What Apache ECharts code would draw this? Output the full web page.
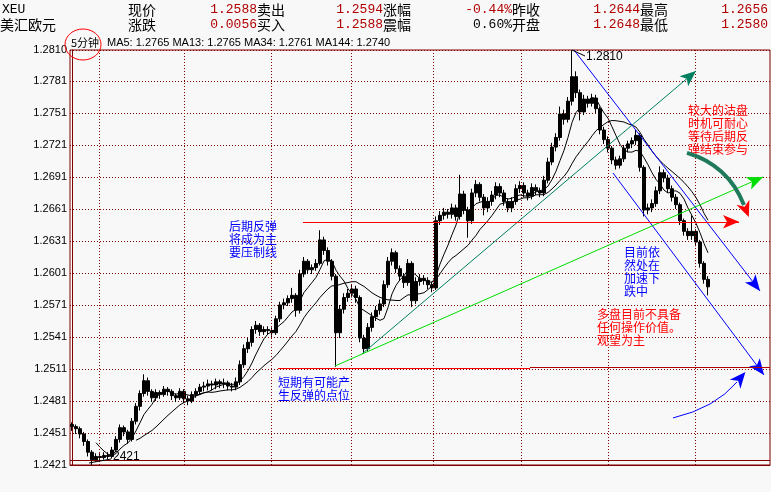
<!DOCTYPE html>
<html>
<head>
<meta charset="utf-8">
<script src="https://cdn.jsdelivr.net/npm/echarts@6/dist/echarts.min.js"></script>
<style>
  html, body { margin: 0; padding: 0; background: #f8f8f8; }
  #chart { width: 771px; height: 492px; }
</style>
</head>
<body>
<div id="chart"></div>
<script>
// ---- 5-minute EUR/USD bars ----
const opens = [
  1.2459,1.2457,1.2455,1.2450,1.2443,1.2433,1.2426,1.2429,1.2428,1.2430,
  1.2429,1.2435,1.2445,1.2456,1.2452,1.2445,1.2462,1.2476,1.2488,1.2500,
  1.2490,1.2484,1.2489,1.2487,1.2492,1.2490,1.2486,1.2484,1.2490,1.2483,
  1.2481,1.2487,1.2490,1.2494,1.2495,1.2497,1.2496,1.2499,1.2497,1.2498,
  1.2495,1.2494,1.2499,1.2515,1.2530,1.2536,1.2548,1.2552,1.2546,1.2548,
  1.2547,1.2545,1.2558,1.2571,1.2573,1.2577,1.2580,1.2566,1.2600,1.2612,
  1.2604,1.2606,1.2610,1.2632,1.2622,1.2612,1.2598,1.2545,1.2567,1.2578,
  1.2582,1.2586,1.2578,1.2540,1.2530,1.2550,1.2560,1.2566,1.2572,1.2590,
  1.2612,1.2620,1.2605,1.2598,1.2592,1.2610,1.2575,1.2593,1.2596,1.2594,
  1.2590,1.2587,1.2650,1.2655,1.2658,1.2656,1.2662,1.2654,1.2675,1.2660,
  1.2650,1.2676,1.2684,1.2672,1.2662,1.2668,1.2674,1.2682,1.2676,1.2668,
  1.2662,1.2668,1.2680,1.2683,1.2676,1.2673,1.2681,1.2678,1.2676,1.2688,
  1.2705,1.2719,1.2728,1.2750,1.2745,1.2762,1.2785,1.2770,1.2752,1.2764,
  1.2760,1.2765,1.2755,1.2735,1.2726,1.2718,1.2707,1.2702,1.2708,1.2718,
  1.2722,1.2725,1.2730,1.2700,1.2660,1.2662,1.2666,1.2678,1.2695,1.2690,
  1.2680,1.2672,1.2665,1.2650,1.2640,1.2636,1.2640,1.2630,1.2610,1.2595
];
const closes = [
  1.2457,1.2455,1.2450,1.2443,1.2433,1.2426,1.2429,1.2428,1.2430,1.2429,
  1.2435,1.2445,1.2456,1.2452,1.2445,1.2462,1.2476,1.2488,1.2500,1.2490,
  1.2484,1.2489,1.2487,1.2492,1.2490,1.2486,1.2484,1.2490,1.2483,1.2481,
  1.2487,1.2490,1.2494,1.2495,1.2497,1.2496,1.2499,1.2497,1.2498,1.2495,
  1.2494,1.2499,1.2515,1.2530,1.2536,1.2548,1.2552,1.2546,1.2548,1.2547,
  1.2545,1.2558,1.2571,1.2573,1.2577,1.2580,1.2566,1.2600,1.2612,1.2604,
  1.2606,1.2610,1.2632,1.2622,1.2612,1.2598,1.2545,1.2567,1.2578,1.2582,
  1.2586,1.2578,1.2540,1.2530,1.2550,1.2560,1.2566,1.2572,1.2590,1.2612,
  1.2620,1.2605,1.2598,1.2592,1.2610,1.2575,1.2593,1.2596,1.2594,1.2590,
  1.2587,1.2650,1.2655,1.2658,1.2656,1.2662,1.2654,1.2675,1.2660,1.2650,
  1.2676,1.2684,1.2672,1.2662,1.2668,1.2674,1.2682,1.2676,1.2668,1.2662,
  1.2668,1.2680,1.2683,1.2676,1.2673,1.2681,1.2678,1.2676,1.2688,1.2705,
  1.2719,1.2728,1.2750,1.2745,1.2762,1.2785,1.2770,1.2752,1.2764,1.2760,
  1.2765,1.2755,1.2735,1.2726,1.2718,1.2707,1.2702,1.2708,1.2718,1.2722,
  1.2725,1.2730,1.2700,1.2660,1.2662,1.2666,1.2678,1.2695,1.2690,1.2680,
  1.2672,1.2665,1.2650,1.2640,1.2636,1.2640,1.2630,1.2610,1.2595,1.2588
];
const lows = [
  1.2453,1.2450,1.2446,1.2439,1.2429,1.2421,1.2424,1.2425,1.2426,1.2426,
  1.2427,1.2433,1.2442,1.2448,1.2441,1.2443,1.2459,1.2472,1.2485,1.2486,
  1.2480,1.2481,1.2483,1.2485,1.2486,1.2482,1.2480,1.2482,1.2479,1.2477,
  1.2479,1.2484,1.2487,1.2490,1.2491,1.2491,1.2492,1.2493,1.2493,1.2491,
  1.2490,1.2491,1.2496,1.2512,1.2526,1.2532,1.2544,1.2542,1.2543,1.2543,
  1.2541,1.2543,1.2555,1.2567,1.2570,1.2573,1.2560,1.2563,1.2597,1.2600,
  1.2600,1.2603,1.2608,1.2618,1.2608,1.2594,1.2513,1.2540,1.2563,1.2574,
  1.2578,1.2573,1.2536,1.2525,1.2527,1.2546,1.2556,1.2562,1.2569,1.2587,
  1.2608,1.2601,1.2594,1.2587,1.2589,1.2569,1.2572,1.2589,1.2590,1.2586,
  1.2583,1.2585,1.2646,1.2651,1.2652,1.2652,1.2650,1.2651,1.2656,1.2634,
  1.2647,1.2672,1.2668,1.2655,1.2658,1.2664,1.2670,1.2672,1.2664,1.2658,
  1.2658,1.2665,1.2676,1.2672,1.2669,1.2670,1.2674,1.2672,1.2673,1.2685,
  1.2702,1.2715,1.2725,1.2740,1.2742,1.2758,1.2765,1.2744,1.2749,1.2756,
  1.2757,1.2751,1.2731,1.2722,1.2714,1.2703,1.2698,1.2699,1.2705,1.2714,
  1.2718,1.2721,1.2696,1.2654,1.2656,1.2658,1.2663,1.2675,1.2686,1.2676,
  1.2668,1.2661,1.2646,1.2636,1.2632,1.2632,1.2626,1.2606,1.2591,1.2580
];
const highs = [
  1.2461,1.2459,1.2457,1.2452,1.2445,1.2435,1.2432,1.2432,1.2433,1.2433,
  1.2438,1.2448,1.2459,1.2458,1.2454,1.2465,1.2479,1.2491,1.2506,1.2503,
  1.2492,1.2492,1.2491,1.2495,1.2494,1.2492,1.2488,1.2493,1.2492,1.2486,
  1.2490,1.2493,1.2497,1.2499,1.2501,1.2500,1.2502,1.2501,1.2502,1.2500,
  1.2498,1.2503,1.2519,1.2534,1.2540,1.2551,1.2556,1.2554,1.2551,1.2551,
  1.2550,1.2561,1.2574,1.2577,1.2580,1.2587,1.2582,1.2604,1.2616,1.2614,
  1.2609,1.2614,1.2641,1.2635,1.2625,1.2614,1.2600,1.2571,1.2582,1.2586,
  1.2590,1.2589,1.2580,1.2543,1.2554,1.2564,1.2570,1.2576,1.2594,1.2616,
  1.2624,1.2622,1.2608,1.2601,1.2614,1.2612,1.2597,1.2600,1.2599,1.2597,
  1.2593,1.2654,1.2659,1.2662,1.2661,1.2666,1.2665,1.2693,1.2678,1.2663,
  1.2680,1.2688,1.2686,1.2675,1.2672,1.2678,1.2686,1.2685,1.2679,1.2671,
  1.2672,1.2684,1.2687,1.2686,1.2679,1.2685,1.2684,1.2681,1.2692,1.2709,
  1.2723,1.2732,1.2757,1.2754,1.2766,1.2810,1.2790,1.2773,1.2768,1.2767,
  1.2769,1.2768,1.2757,1.2738,1.2729,1.2720,1.2710,1.2711,1.2721,1.2725,
  1.2728,1.2735,1.2732,1.2702,1.2666,1.2670,1.2682,1.2701,1.2698,1.2693,
  1.2683,1.2675,1.2667,1.2652,1.2643,1.2655,1.2642,1.2632,1.2612,1.2598
];

// axis range and tick step of the price scale
const priceMin = 1.2421;
const priceMax = 1.2810;
const priceStep = 0.003;
const slotCount = 175;            // bar slots on the time axis (right side left open)

// time-axis grid positions (in bar units)
const timeGrid = [6.8, 28.1, 49.9, 69.9, 90.25, 112.2, 134.1, 155.75];

// quote panel
const symbolCode = 'XEU';
const symbolName = '美汇欧元';
const quoteLabels = [['现价', '卖出', '涨幅', '昨收', '最高'], ['涨跌', '买入', '震幅', '开盘', '最低']];
const quoteValues = [['1.2588', '1.2594', '-0.44%', '1.2644', '1.2656'], ['0.0056', '1.2588', '0.60%', '1.2648', '1.2580']];
const periodName = '5分钟';
const maText = 'MA5: 1.2765 MA13: 1.2765 MA34: 1.2761 MA144: 1.2740';

// trend lines drawn on the chart: [barIndex, price]
const trendLines = [
  { from: [125.5, 1.2810], to: [172, 1.25841], color: '#0000ff', arrow: true },
  { from: [135.25, 1.26947], to: [173, 1.25054], color: '#0000ff', arrow: true },
  { from: [72.5, 1.25251], to: [156, 1.27904], color: '#008060', arrow: true },
  { from: [65.75, 1.25138], to: [172.75, 1.2691], color: '#00dd00', arrow: true },
  { from: [57.75, 1.2649], to: [166.75, 1.2649], color: '#ff0000', arrow: true },
  { from: [51.5, 1.2512], to: [114.5, 1.2512], color: '#ff0000', arrow: false },
  { from: [114.5, 1.25125], to: [174.5, 1.25125], color: '#b00000', arrow: false }
];
// curved arrows: start, control, end  [barIndex, price]
const curveArrows = [
  { pts: [[153.75, 1.27135], [164, 1.27022], [168, 1.26647]], color: '#1f7a5c', head: '#ff0000', width: 4 },
  { pts: [[150.25, 1.24651], [160.75, 1.24744], [166.25, 1.24988]], color: '#0000ff', head: '#0000ff', width: 1 }
];

// notes
const notes = [
  { lines: ['后期反弹', '将成为主', '要压制线'], x: 229, y: 226, color: '#0000ff' },
  { lines: ['短期有可能产', '生反弹的点位'], x: 278, y: 382, color: '#0000ff' },
  { lines: ['目前依', '然处在', '加速下', '跌中'], x: 624, y: 252, color: '#0000ff' },
  { lines: ['较大的沽盘', '时机可耐心', '等待后期反', '弹结束参与'], x: 688, y: 110, color: '#ff0000' },
  { lines: ['多盘目前不具备', '任何操作价值。', '观望为主'], x: 597, y: 314, color: '#ff0000' }
];

function movingAverage(n) {
  return closes.map((_, i) => {
    if (i < n - 1) return '-';
    let s = 0;
    for (let k = i - n + 1; k <= i; k++) s += closes[k];
    return +(s / n).toFixed(5);
  });
}

const slots = Array.from({ length: slotCount }, (_, i) => String(i));
const candleData = opens.map((o, i) => [o, closes[i], lows[i], highs[i]]);
const frame = '#800000';
const CJK = '"Noto Sans CJK SC", sans-serif';

const chart = echarts.init(document.getElementById('chart'));
chart.setOption({
  animation: false,
  backgroundColor: '#f8f8f8',
  grid: { left: 70, right: 1, top: 50, bottom: 27, show: true, borderColor: frame, borderWidth: 1, backgroundColor: 'transparent' },
  xAxis: [
    { type: 'category', data: slots, boundaryGap: true,
      axisLine: { lineStyle: { color: frame } }, axisTick: { show: false }, axisLabel: { show: false }, splitLine: { show: false } },
    { type: 'value', min: -0.5, max: slotCount - 0.5, show: false }
  ],
  yAxis: {
    type: 'value', min: priceMin, max: priceMax, interval: priceStep, scale: true,
    axisLine: { show: true, lineStyle: { color: frame } },
    axisTick: { show: false },
    axisLabel: { color: '#000', fontFamily: 'Liberation Sans', fontSize: 11, margin: 3, formatter: v => v.toFixed(4) },
    splitLine: { show: true, lineStyle: { color: frame, type: [1, 2], width: 1 } }
  },
  series: [
    {
      type: 'line', xAxisIndex: 1, data: [], silent: true, z: 1,
      markLine: {
        silent: true, symbol: ['none', 'none'], label: { show: false },
        lineStyle: { color: frame, type: [1, 2], width: 1 },
        data: timeGrid.map(v => ({ xAxis: v }))
      }
    },
    {
      type: 'candlestick', name: 'XEU', data: candleData, barWidth: 3, z: 3,
      itemStyle: { color: '#000', color0: '#000', borderColor: '#000', borderColor0: '#000', borderWidth: 1 }
    },
    { type: 'line', data: movingAverage(7), symbol: 'none', z: 3, lineStyle: { color: '#000', width: 1 } },
    { type: 'line', data: movingAverage(17), symbol: 'none', z: 3, lineStyle: { color: '#000', width: 1 } },
    {
      type: 'line', xAxisIndex: 1, data: [], silent: true, z: 5,
      markLine: {
        silent: true, label: { show: false }, symbolSize: [10, 16],
        data: trendLines.map(t => [
          { coord: t.from, symbol: 'none', lineStyle: { color: t.color, width: 1, type: 'solid' } },
          { coord: t.to, symbol: t.arrow ? 'arrow' : 'none', itemStyle: { color: t.color } }
        ])
      }
    }
  ]
});

// ---- overlay: quote panel, notes, markers and curved arrows ----
const toPx = p => chart.convertToPixel({ xAxisIndex: 1, yAxisIndex: 0 }, p);
const g = [];
function txt(text, x, y, font, fill, align) {
  g.push({ type: 'text', z: 20, x, y, style: { text, font, fill, align: align || 'left', verticalAlign: 'middle' } });
}

txt(symbolCode, 2, 10, '13px "Liberation Mono"', '#000');
txt(symbolName, 0, 25, '14px ' + CJK, '#000');
const labelLeft = [128, 257, 383, 512, 640];
const valueRight = [257, 383, 512, 640, 768];
quoteLabels.forEach((row, r) => row.forEach((lab, c) => {
  const y = r === 0 ? 10 : 25;
  txt(lab, labelLeft[c], y, '14px ' + CJK, '#000');
  const v = quoteValues[r][c];
  txt(v, valueRight[c], y, '13px "Liberation Mono"', v === '0.60%' ? '#000' : '#b00000', 'right');
}));
txt(periodName, 71, 43, '11px ' + CJK, '#000');
txt(maText, 107, 43, '11px "Liberation Sans"', '#000');
g.push({ type: 'ellipse', z: 20, shape: { cx: 83, cy: 44.5, rx: 18, ry: 15.5 }, style: { fill: 'none', stroke: '#ff0000', lineWidth: 1 } });

// lower frame line of the price pane
g.push({ type: 'line', z: 6, shape: { x1: 70, y1: 460.5, x2: 770, y2: 460.5 }, style: { stroke: frame, lineWidth: 1 } });

notes.forEach(n => n.lines.forEach((line, k) => txt(line, n.x, n.y + k * 13.3, '12px ' + CJK, n.color)));

// high / low markers
let hi = 0, lo = 0;
highs.forEach((v, i) => { if (v > highs[hi]) hi = i; });
lows.forEach((v, i) => { if (v < lows[lo]) lo = i; });
const hiPt = toPx([hi, highs[hi]]);
const loPt = toPx([lo, lows[lo]]);
g.push({ type: 'line', z: 20, shape: { x1: hiPt[0], y1: hiPt[1], x2: hiPt[0] + 13, y2: hiPt[1] + 6 }, style: { stroke: '#000', lineWidth: 1 } });
txt(highs[hi].toFixed(4), hiPt[0] + 14, hiPt[1] + 7, '12px "Liberation Sans"', '#000');
g.push({ type: 'line', z: 20, shape: { x1: loPt[0] - 3, y1: loPt[1] - 2, x2: loPt[0] + 19, y2: loPt[1] - 6 }, style: { stroke: '#000', lineWidth: 1 } });
txt(lows[lo].toFixed(4).slice(2), loPt[0] + 21, loPt[1] - 8, '12px "Liberation Sans"', '#000');

// curved arrows
function arrowHead(tip, dx, dy, len, half, color) {
  const d = Math.hypot(dx, dy); const ux = dx / d, uy = dy / d; const px = -uy, py = ux;
  const bx = tip[0] - ux * len, by = tip[1] - uy * len;
  const nx = tip[0] - ux * len * 0.7, ny = tip[1] - uy * len * 0.7;
  return { type: 'polygon', z: 21, shape: { points: [tip, [bx + px * half, by + py * half], [nx, ny], [bx - px * half, by - py * half]] }, style: { fill: color } };
}
curveArrows.forEach(c => {
  const [s, cp, e] = c.pts.map(toPx);
  g.push({ type: 'bezierCurve', z: 21, shape: { x1: s[0], y1: s[1], cpx1: cp[0], cpy1: cp[1], x2: e[0], y2: e[1] }, style: { stroke: c.color, lineWidth: c.width, fill: 'none' } });
  const dx = e[0] - cp[0], dy = e[1] - cp[1]; const d = Math.hypot(dx, dy);
  const tip = [e[0] + dx / d * 13, e[1] + dy / d * 13];
  g.push(arrowHead(tip, dx, dy, 16, 7, c.head));
});

chart.setOption({ graphic: g });
</script>
</body>
</html>
